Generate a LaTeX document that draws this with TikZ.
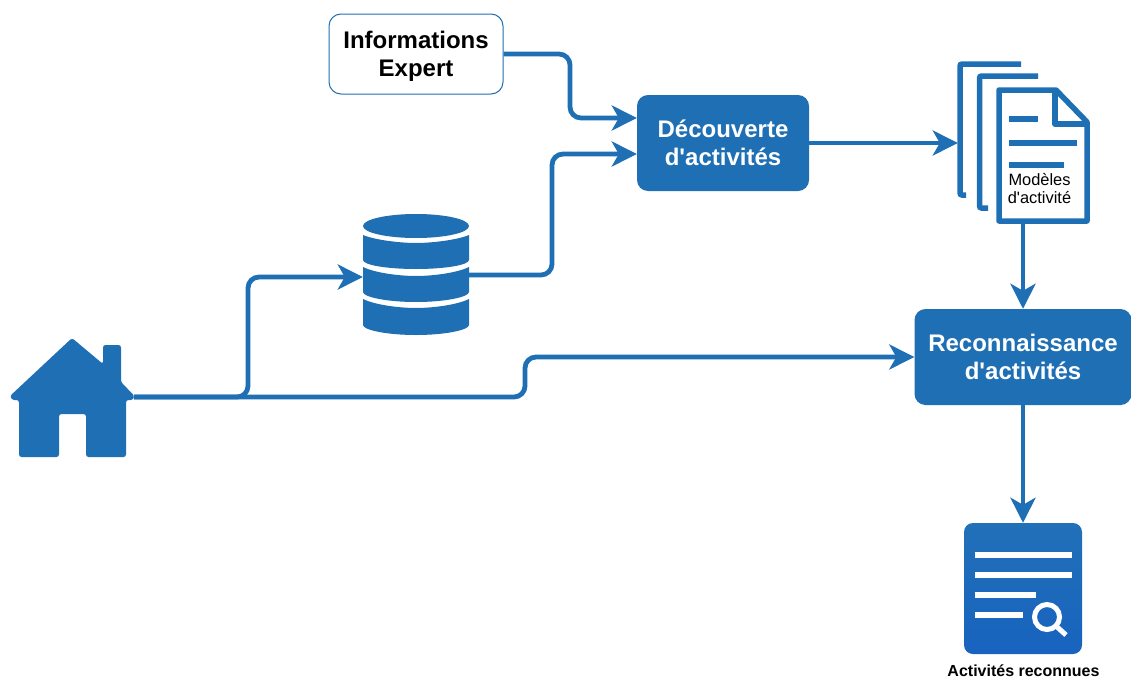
\documentclass[tikz,border=0pt]{standalone}
\usepackage{fontspec}
\setmainfont{Liberation Sans}[Ligatures=TeXOff]
\usetikzlibrary{arrows.meta,calc}
\definecolor{bl}{HTML}{1F6FB5}
\definecolor{bltop}{HTML}{2270B8}
\definecolor{blbot}{HTML}{1763BF}
\tikzset{
  conn/.style={draw=bl,line width=4.8pt,rounded corners=11pt,-{Stealth[length=25pt,width=25pt,inset=7pt]}},
  blockbox/.style={fill=bl,draw=none,rounded corners=11pt,text=white,font=\fontsize{24}{28}\selectfont\bfseries,align=center,inner sep=0pt},
  expertbox/.style={fill=white,draw=bl,line width=1pt,rounded corners=12pt,text=black,font=\fontsize{24}{28}\selectfont\bfseries,align=center,inner sep=0pt},
  iconbox/.style={draw=none,inner sep=0pt},
  band/.style={fill=bl,draw=none},
  docline/.style={draw=bl,line width=5.5pt},
  replyline/.style={draw=white,line width=6pt},
  smalltxt/.style={text=black,inner sep=0pt,align=center}
}
\begin{document}
\begin{tikzpicture}[x=1pt,y=-1pt]
\useasboundingbox (0,0) rectangle (1131,680);
% boxes
\node[expertbox,minimum width=174pt,minimum height=80pt] (expert) at (416,54) {\rule{0pt}{22pt}Informations\\Expert};
\node[blockbox,minimum width=172pt,minimum height=96pt] (disc) at (723,143) {Découverte\\d'activités};
\node[blockbox,minimum width=217pt,minimum height=96pt] (reco) at (1023,357) {Reconnaissance\\d'activités};
% icon anchors
\node[iconbox,minimum width=124pt,minimum height=120pt] (house) at (72,397) {};
\node[iconbox,minimum width=106pt,minimum height=124pt] (db) at (416,275) {};
\node[iconbox,minimum width=130pt,minimum height=158pt] (docs) at (1023,143) {};
\node[iconbox,minimum width=118pt,minimum height=131pt] (report) at (1023,588.5) {};
% house
\fill[bl,rounded corners=2.5pt] (72,338) -- (103,364) -- (103,345) -- (121,345) -- (121,382) -- (134.5,396) -- (133,400) -- (126,400) -- (126,457) -- (86,457) -- (86,414) -- (59,414) -- (59,457) -- (19,457) -- (19,400) -- (12,400) -- (10,396) -- cycle;
% database
\fill[band] (416,226) ellipse (53pt and 12pt);
\fill[band] (363,235) .. controls (375,240) and (400,243) .. (416,243) .. controls (432,243) and (457,240) .. (469,235) -- (469,260) .. controls (469,265) and (445,269) .. (416,269) .. controls (387,269) and (363,265) .. (363,260) -- cycle;
\fill[band] (363,267) .. controls (375,273) and (400,276) .. (416,276) .. controls (432,276) and (457,273) .. (469,267) -- (469,292) .. controls (469,297) and (445,302) .. (416,302) .. controls (387,302) and (363,297) .. (363,292) -- cycle;
\fill[band] (363,299) .. controls (375,305) and (400,308) .. (416,308) .. controls (432,308) and (457,305) .. (469,299) -- (469,325) .. controls (469,330) and (445,335) .. (416,335) .. controls (387,335) and (363,330) .. (363,325) -- cycle;
% documents
\draw[docline,rounded corners=2pt] (1021,64) -- (960,64) -- (960,195) -- (966,195);
\draw[docline,rounded corners=2pt] (1038,76) -- (979.5,76) -- (979.5,208) -- (988,208);
\draw[docline,line join=round,fill=white] (999,90) -- (1056,90) -- (1087,122) -- (1087,221) -- (999,221) -- cycle;
\draw[docline,line join=round] (1055,90) -- (1055,124) -- (1087,124);
\draw[docline] (1009,119) -- (1038,119);
\draw[docline] (1009,143) -- (1077,143);
\draw[docline] (1009,165) -- (1064,165);
\node[smalltxt,font=\fontsize{16.4}{18}\selectfont] (doclabel) at (1039.5,189) {Modèles\\d'activité};
% report
\shade[top color=bltop,bottom color=blbot,rounded corners=9pt] (964,523) rectangle (1082,654);
\draw[replyline] (975,555) -- (1072,555);
\draw[replyline] (975,575) -- (1072,575);
\draw[replyline] (975,595) -- (1036,595);
\draw[replyline] (975,615) -- (1023,615);
\draw[draw=white,line width=5pt] (1047,617) circle (12.5pt);
\draw[draw=white,line width=5pt] (1056,626) -- (1066,635);
\node[smalltxt,font=\fontsize{16}{18}\selectfont\bfseries] (replabel) at (1023.5,670.5) {Activités reconnues};
% connector bends
\coordinate (b1a) at (570,54);
\coordinate (b1b) at (570,118);
\coordinate (e1) at ($(disc.west)+(0,-25)$);
\coordinate (b2a) at (552,275);
\coordinate (b2b) at (552,154);
\coordinate (e2) at ($(disc.west)+(0,11)$);
\coordinate (b3a) at (248,397);
\coordinate (b3b) at (248,277);
\coordinate (e3) at ($(db.west)+(0,2)$);
\coordinate (b4a) at (525,397);
\coordinate (b4b) at (525,357);
% connectors
\draw[conn] (expert.east) -- (b1a) -- (b1b) -- (e1);
\draw[conn] (db.east) -- (b2a) -- (b2b) -- (e2);
\draw[conn] (disc.east) -- (docs.west);
\draw[conn] (docs.south) -- (reco.north);
\draw[conn] (reco.south) -- (report.north);
\draw[conn] (house.east) -- (b3a) -- (b3b) -- (e3);
\draw[conn] (house.east) -- (b4a) -- (b4b) -- (reco.west);
\end{tikzpicture}
\end{document}
